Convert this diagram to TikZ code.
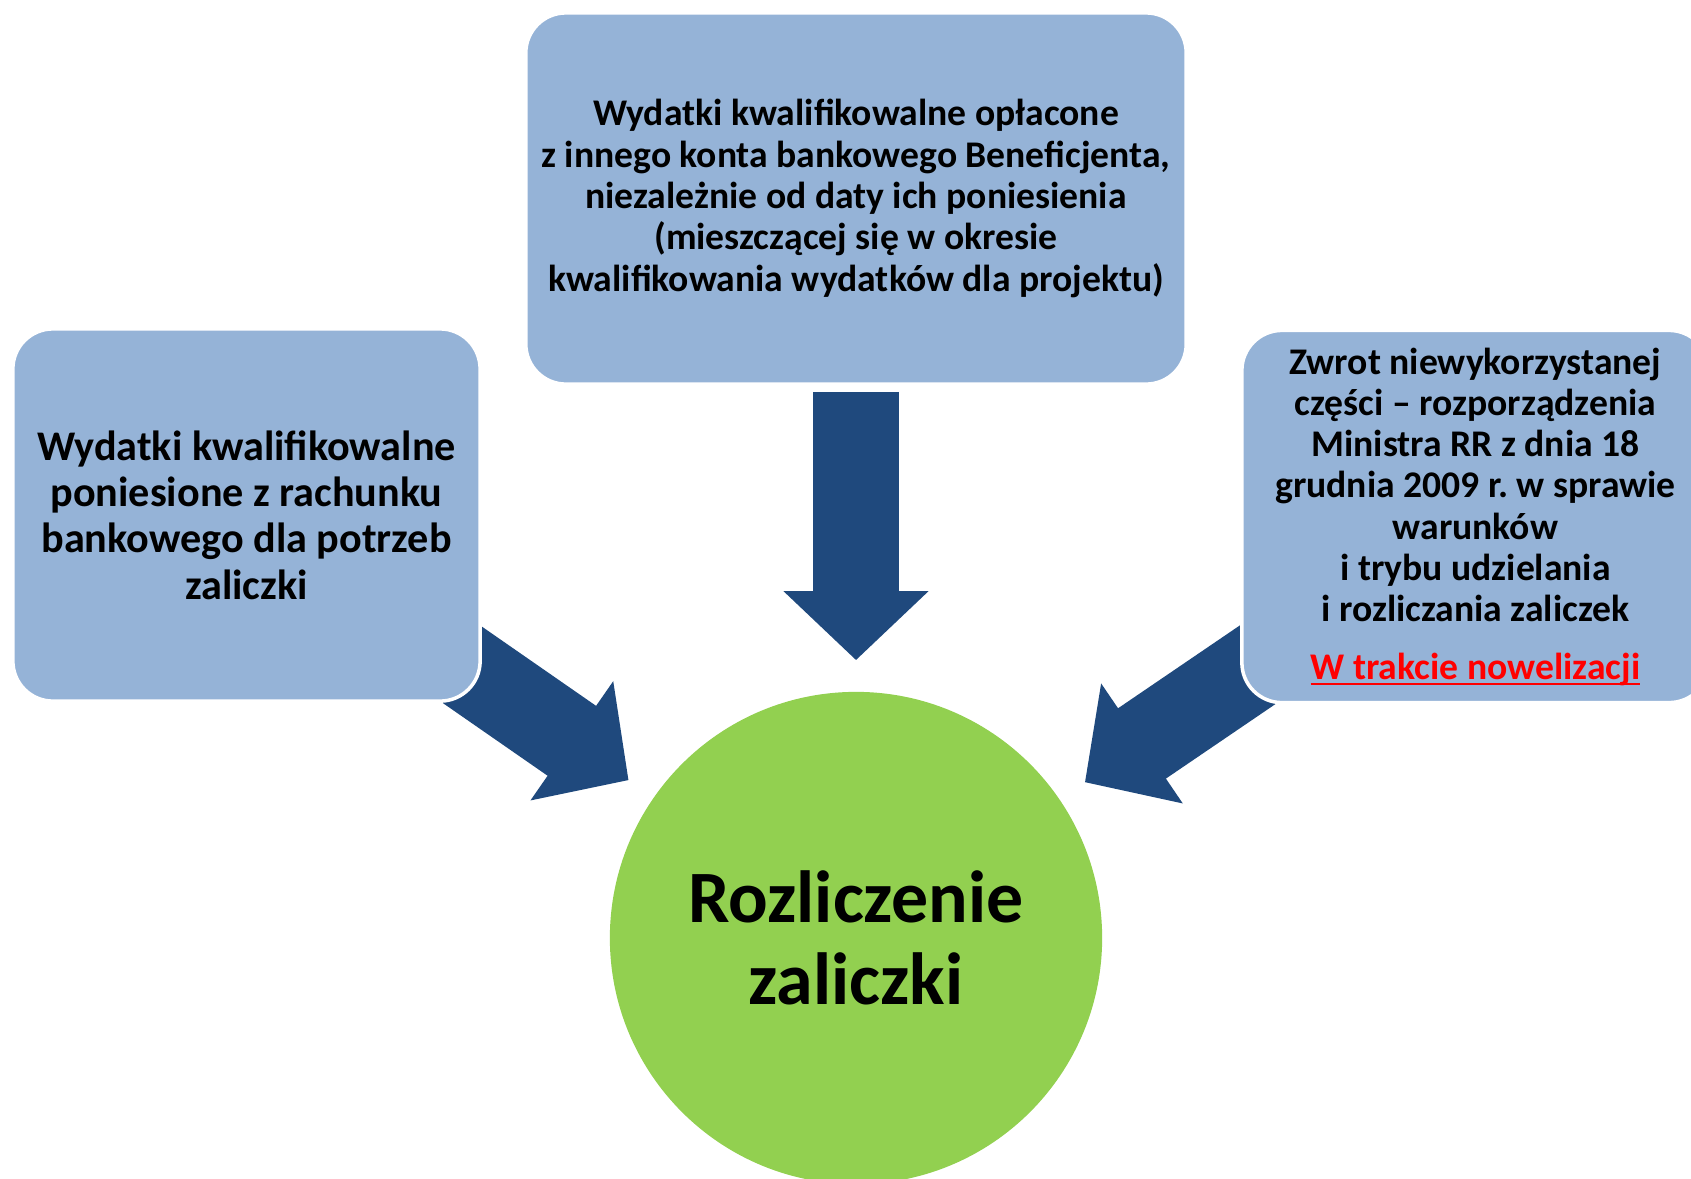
\documentclass[tikz,border=0pt]{standalone}
\usepackage{fontspec}
\setmainfont{Carlito}
\usetikzlibrary{arrows.meta,backgrounds}
\definecolor{boxblue}{HTML}{95B3D7}
\definecolor{arrowblue}{HTML}{1F497D}
\definecolor{ballgreen}{HTML}{92D050}
\newcommand{\ulred}[1]{\setbox0\hbox{#1}\rlap{\rule[-1.8pt]{\wd0}{0.8pt}}\box0}
\frenchspacing
\begin{document}
\begin{tikzpicture}[x=0.01cm, y=0.01cm]
\tikzstyle{every node}+=[inner sep=0pt]
\tikzstyle{box}=[draw=white, line width=1pt, fill=boxblue, rounded corners=0.4cm, align=center, minimum width=4.67cm, minimum height=3.72cm]
\tikzstyle{bigarrow}=[arrowblue, line width=0.85cm, -{Triangle[length=0.69cm, width=1.41cm]}]
\useasboundingbox (0,0) rectangle (1691,-1178);
\node [box, font=\fontsize{12}{13.2}\selectfont\bfseries] (left) at (246.5,-515) {Wydatki kwalifikowalne\\poniesione z rachunku\\bankowego dla potrzeb\\zaliczki};
\node [box, minimum width=6.6cm, minimum height=3.71cm, font=\fontsize{10.7}{11.75}\selectfont\bfseries] (top) at (856,-198.5) {Wydatki kwalifikowalne opłacone\\z innego konta bankowego Beneficjenta,\\niezależnie od daty ich poniesienia\\(mieszczącej się w okresie\\kwalifikowania wydatków dla projektu)};
\node [box, font=\fontsize{10.7}{11.75}\selectfont\bfseries] (right) at (1475.5,-516.5) {Zwrot niewykorzystanej\\części -- rozporządzenia\\Ministra RR z dnia 18\\grudnia 2009 r. w sprawie\\warunków\\i trybu udzielania\\i rozliczania zaliczek\\[4.5pt]\textcolor{red}{\ulred{W trakcie nowelizacji}}};
\node [circle, fill=ballgreen, minimum size=4.92cm, align=center, font=\fontsize{21}{23.5}\selectfont\bfseries] (res) at (856,-938) {Rozliczenie\\zaliczki};
\begin{scope}[on background layer]
\draw [bigarrow, shorten <=0.06cm, shorten >=0.31cm] (top) -- (res);
\draw [bigarrow, shorten >=0.3cm] (left.center) -- (res);
\draw [bigarrow, shorten >=0.3cm] (right.center) -- (res);
\end{scope}
\end{tikzpicture}
\end{document}
